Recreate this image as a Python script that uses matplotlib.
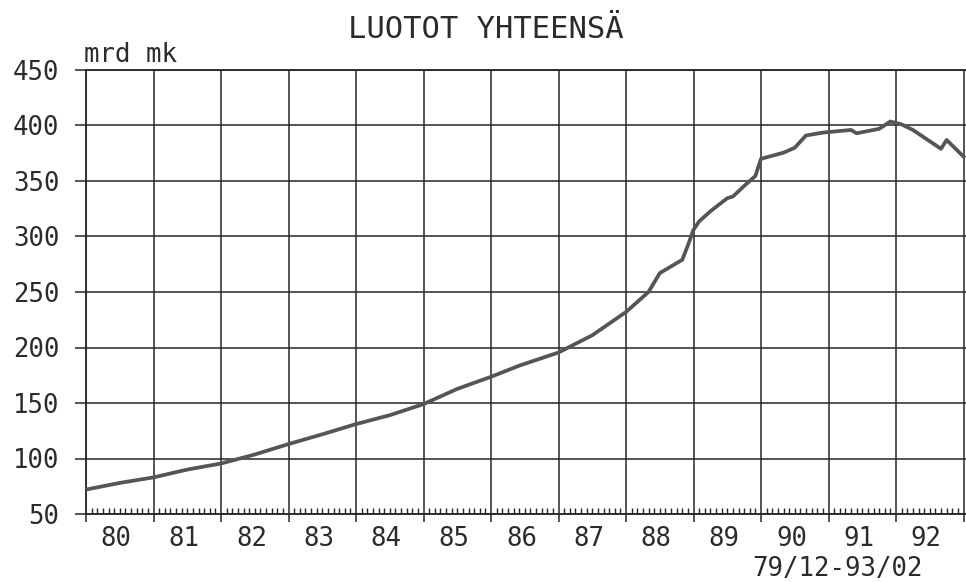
import numpy as np
import matplotlib.pyplot as plt
from matplotlib.ticker import MultipleLocator

# Luotot yhteensä, mrd mk (luettu kuvasta)
kuukausi = [0, 6, 12, 18, 24, 30, 36, 42, 48, 54, 60, 66, 72, 77, 84, 90, 96,
            100, 102, 106, 107, 108, 109, 111, 114, 115, 117, 119, 120, 124,
            126, 128, 131, 136, 137, 141, 143, 145, 147, 152, 153, 154, 156]
luotot = [72, 78, 83, 90, 95.5, 103.6, 113, 121.8, 131, 139, 149, 162.7, 173.6,
          183.6, 195.5, 211, 232, 250, 267, 279, 292, 306, 313.6, 322.7, 334.5,
          336, 345.5, 354.5, 370, 375.5, 380, 391, 393.6, 396, 393, 397, 403.6,
          401, 396, 379, 387, 382, 372]
vuodet = list(range(80, 93))
y_ticks = list(range(50, 451, 50))

x = 1980 + np.array(kuukausi) / 12.0

tekstin_vari = '#2b2b2b'
viivan_vari = '#262626'
plt.rcParams['font.family'] = ['DejaVu Sans Mono']
plt.rcParams['text.color'] = tekstin_vari

fig = plt.figure(figsize=(9.66, 5.82), dpi=100)
ax = fig.add_axes([86 / 966, 1 - 514 / 582, 880 / 966, 444 / 582])

ax.plot(x, luotot, color='#555555', linewidth=2.7, solid_joinstyle='round',
        zorder=3)

ax.set_xlim(1980, 1980 + 880 / 67.5)
ax.set_ylim(50, 450)

# ruudukko
for v in range(1980, 1994):
    ax.axvline(v, color=viivan_vari, linewidth=1.1, zorder=1)
for t in y_ticks:
    ax.axhline(t, color=viivan_vari, linewidth=1.1, zorder=1)

ax.spines['right'].set_visible(False)
for s in ['left', 'bottom', 'top']:
    ax.spines[s].set_color(viivan_vari)
    ax.spines[s].set_linewidth(1.3)

ax.set_yticks(y_ticks)
ax.set_yticklabels([str(t) for t in y_ticks])
ax.tick_params(axis='y', direction='out', length=8, width=1.1,
               color=viivan_vari, pad=11, labelsize=18.5, labelcolor=tekstin_vari)

ax.xaxis.set_major_locator(MultipleLocator(1))
ax.xaxis.set_minor_locator(MultipleLocator(1 / 12))
ax.tick_params(axis='x', which='major', direction='out', length=6, width=1.1,
               color=viivan_vari, labelbottom=False)
ax.tick_params(axis='x', which='minor', direction='in', length=4, width=1.0,
               color=viivan_vari)

for v in vuodet:
    ax.text(1900 + v + 0.45, -25 / 444, str(v), transform=ax.get_xaxis_transform(),
            ha='center', va='center', fontsize=18.5, color=tekstin_vari)

fig.text(486 / 966, 1 - 29 / 582, 'LUOTOT YHTEENSÄ', ha='center', va='center',
         fontsize=22, color=tekstin_vari)
fig.text(84 / 966, 1 - 62 / 582, 'mrd mk', ha='left', va='baseline',
         fontsize=18.5, color=tekstin_vari)
fig.text(837 / 966, 0.0, '79/12-93/02', ha='center', va='bottom',
         fontsize=18.5, color=tekstin_vari)

fig.savefig('out.png', dpi=100, facecolor='white')
